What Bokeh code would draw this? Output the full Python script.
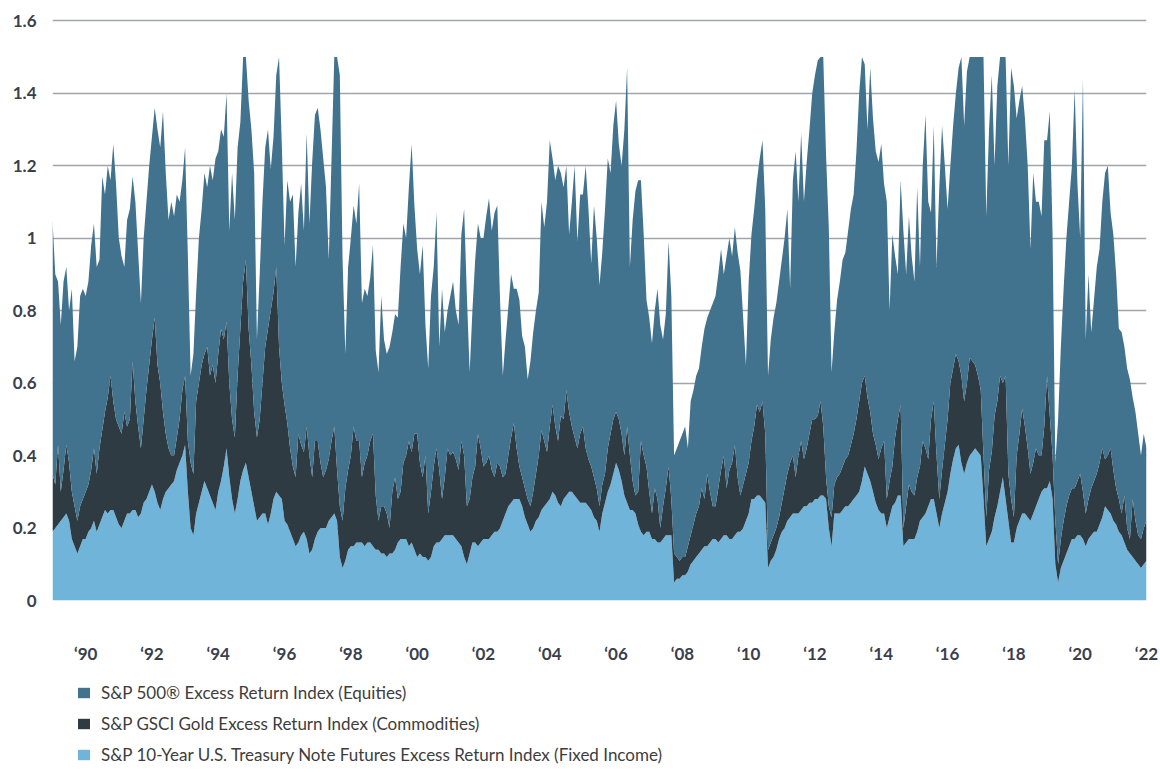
from bokeh.plotting import figure
from bokeh.layouts import column
from bokeh.models import (ColumnDataSource, Legend, LegendItem, FixedTicker,
                          NumeralTickFormatter, Range1d)
from bokeh.embed import file_html
from bokeh.resources import INLINE

# Monthly weights, Jan 1989 ... Jan 2022 (one row per year)
treasury = [
    0.19, 0.20, 0.21, 0.22, 0.23, 0.24, 0.22, 0.17, 0.15, 0.13, 0.15, 0.17,  # 1989
    0.17, 0.19, 0.20, 0.22, 0.19, 0.21, 0.23, 0.25, 0.24, 0.25, 0.25, 0.23,  # 1990
    0.21, 0.20, 0.22, 0.24, 0.24, 0.25, 0.25, 0.23, 0.24, 0.27, 0.28, 0.30,  # 1991
    0.32, 0.30, 0.27, 0.25, 0.28, 0.30, 0.31, 0.32, 0.33, 0.36, 0.38, 0.40,  # 1992
    0.43, 0.30, 0.20, 0.18, 0.24, 0.27, 0.30, 0.33, 0.31, 0.29, 0.27, 0.25,  # 1993
    0.30, 0.33, 0.37, 0.42, 0.34, 0.28, 0.24, 0.28, 0.33, 0.36, 0.38, 0.34,  # 1994
    0.30, 0.26, 0.22, 0.23, 0.24, 0.24, 0.21, 0.24, 0.28, 0.30, 0.29, 0.28,  # 1995
    0.22, 0.21, 0.19, 0.17, 0.15, 0.16, 0.18, 0.19, 0.17, 0.13, 0.14, 0.17,  # 1996
    0.19, 0.20, 0.20, 0.20, 0.22, 0.23, 0.24, 0.22, 0.12, 0.09, 0.11, 0.14,  # 1997
    0.15, 0.15, 0.16, 0.16, 0.16, 0.15, 0.16, 0.16, 0.15, 0.14, 0.14, 0.13,  # 1998
    0.13, 0.12, 0.13, 0.13, 0.14, 0.16, 0.17, 0.17, 0.17, 0.15, 0.16, 0.14,  # 1999
    0.12, 0.13, 0.12, 0.12, 0.11, 0.12, 0.15, 0.16, 0.16, 0.17, 0.18, 0.18,  # 2000
    0.18, 0.18, 0.17, 0.16, 0.15, 0.12, 0.10, 0.13, 0.16, 0.16, 0.15, 0.16,  # 2001
    0.17, 0.17, 0.17, 0.18, 0.19, 0.19, 0.20, 0.22, 0.24, 0.26, 0.27, 0.28,  # 2002
    0.28, 0.28, 0.26, 0.23, 0.21, 0.19, 0.20, 0.22, 0.23, 0.25, 0.26, 0.27,  # 2003
    0.28, 0.30, 0.29, 0.27, 0.26, 0.28, 0.29, 0.30, 0.30, 0.29, 0.28, 0.27,  # 2004
    0.27, 0.27, 0.26, 0.25, 0.23, 0.22, 0.19, 0.24, 0.27, 0.30, 0.32, 0.35,  # 2005
    0.38, 0.36, 0.33, 0.29, 0.27, 0.25, 0.25, 0.24, 0.21, 0.19, 0.18, 0.19,  # 2006
    0.19, 0.17, 0.17, 0.16, 0.16, 0.17, 0.18, 0.18, 0.18, 0.05, 0.06, 0.06,  # 2007
    0.07, 0.07, 0.08, 0.10, 0.11, 0.12, 0.13, 0.14, 0.15, 0.15, 0.16, 0.17,  # 2008
    0.17, 0.16, 0.17, 0.18, 0.18, 0.17, 0.17, 0.18, 0.19, 0.19, 0.20, 0.22,  # 2009
    0.24, 0.28, 0.28, 0.29, 0.29, 0.28, 0.27, 0.09, 0.11, 0.12, 0.14, 0.17,  # 2010
    0.19, 0.20, 0.22, 0.23, 0.24, 0.24, 0.24, 0.25, 0.26, 0.26, 0.27, 0.27,  # 2011
    0.28, 0.28, 0.29, 0.29, 0.28, 0.20, 0.15, 0.24, 0.24, 0.24, 0.25, 0.26,  # 2012
    0.26, 0.27, 0.28, 0.29, 0.30, 0.33, 0.37, 0.35, 0.33, 0.30, 0.27, 0.25,  # 2013
    0.24, 0.24, 0.20, 0.23, 0.26, 0.27, 0.29, 0.29, 0.15, 0.16, 0.17, 0.17,  # 2014
    0.17, 0.19, 0.22, 0.23, 0.24, 0.26, 0.28, 0.28, 0.24, 0.20, 0.24, 0.27,  # 2015
    0.30, 0.35, 0.39, 0.42, 0.43, 0.38, 0.35, 0.38, 0.40, 0.41, 0.42, 0.41,  # 2016
    0.40, 0.28, 0.15, 0.17, 0.19, 0.23, 0.26, 0.30, 0.34, 0.28, 0.22, 0.16,  # 2017
    0.16, 0.20, 0.22, 0.24, 0.24, 0.23, 0.22, 0.24, 0.26, 0.28, 0.30, 0.31,  # 2018
    0.31, 0.33, 0.28, 0.10, 0.05, 0.09, 0.11, 0.13, 0.15, 0.17, 0.17, 0.18,  # 2019
    0.18, 0.17, 0.15, 0.17, 0.18, 0.19, 0.19, 0.21, 0.23, 0.26, 0.25, 0.24,  # 2020
    0.22, 0.21, 0.19, 0.18, 0.16, 0.14, 0.13, 0.12, 0.11, 0.10, 0.09, 0.10,  # 2021
    0.11,                                                                    # 2022
]

gold = [
    0.16, 0.12, 0.22, 0.08, 0.13, 0.19, 0.16, 0.13, 0.11, 0.09, 0.11, 0.11,  # 1989
    0.13, 0.13, 0.16, 0.20, 0.16, 0.21, 0.24, 0.27, 0.32, 0.37, 0.30, 0.27,  # 1990
    0.27, 0.26, 0.30, 0.24, 0.26, 0.41, 0.30, 0.25, 0.18, 0.23, 0.30, 0.35,  # 1991
    0.40, 0.48, 0.38, 0.35, 0.24, 0.16, 0.11, 0.08, 0.07, 0.09, 0.12, 0.18,  # 1992
    0.19, 0.14, 0.18, 0.17, 0.31, 0.33, 0.35, 0.35, 0.39, 0.33, 0.38, 0.35,  # 1993
    0.38, 0.42, 0.35, 0.35, 0.26, 0.22, 0.21, 0.34, 0.42, 0.52, 0.56, 0.41,  # 1994
    0.35, 0.26, 0.23, 0.27, 0.36, 0.46, 0.54, 0.56, 0.57, 0.62, 0.41, 0.32,  # 1995
    0.32, 0.28, 0.23, 0.20, 0.19, 0.30, 0.25, 0.22, 0.31, 0.27, 0.20, 0.27,  # 1996
    0.25, 0.18, 0.14, 0.16, 0.17, 0.21, 0.24, 0.14, 0.14, 0.13, 0.20, 0.22,  # 1997
    0.25, 0.33, 0.28, 0.28, 0.18, 0.23, 0.24, 0.28, 0.31, 0.15, 0.08, 0.13,  # 1998
    0.13, 0.12, 0.07, 0.17, 0.20, 0.12, 0.13, 0.21, 0.23, 0.29, 0.25, 0.32,  # 1999
    0.34, 0.25, 0.22, 0.28, 0.13, 0.18, 0.22, 0.26, 0.20, 0.11, 0.16, 0.24,  # 2000
    0.22, 0.23, 0.22, 0.20, 0.29, 0.28, 0.16, 0.15, 0.18, 0.21, 0.31, 0.26,  # 2001
    0.20, 0.21, 0.23, 0.18, 0.15, 0.19, 0.17, 0.12, 0.11, 0.14, 0.18, 0.21,  # 2002
    0.14, 0.09, 0.08, 0.08, 0.07, 0.07, 0.10, 0.13, 0.17, 0.22, 0.18, 0.14,  # 2003
    0.20, 0.24, 0.19, 0.17, 0.25, 0.22, 0.29, 0.22, 0.18, 0.16, 0.14, 0.19,  # 2004
    0.21, 0.15, 0.13, 0.12, 0.11, 0.09, 0.07, 0.08, 0.08, 0.12, 0.14, 0.15,  # 2005
    0.14, 0.14, 0.13, 0.11, 0.21, 0.15, 0.08, 0.05, 0.09, 0.25, 0.22, 0.18,  # 2006
    0.11, 0.07, 0.14, 0.12, 0.04, 0.09, 0.13, 0.19, 0.10, 0.08, 0.06, 0.05,  # 2007
    0.05, 0.05, 0.07, 0.08, 0.10, 0.12, 0.13, 0.17, 0.13, 0.20, 0.14, 0.09,  # 2008
    0.09, 0.15, 0.19, 0.22, 0.13, 0.19, 0.21, 0.25, 0.15, 0.10, 0.12, 0.13,  # 2009
    0.14, 0.16, 0.20, 0.25, 0.23, 0.27, 0.19, 0.05, 0.05, 0.06, 0.06, 0.06,  # 2010
    0.08, 0.11, 0.13, 0.15, 0.16, 0.10, 0.16, 0.19, 0.13, 0.16, 0.19, 0.23,  # 2011
    0.22, 0.23, 0.26, 0.19, 0.06, 0.06, 0.08, 0.08, 0.10, 0.11, 0.12, 0.13,  # 2012
    0.14, 0.16, 0.18, 0.21, 0.25, 0.27, 0.25, 0.21, 0.19, 0.16, 0.16, 0.14,  # 2013
    0.18, 0.20, 0.08, 0.10, 0.11, 0.18, 0.21, 0.25, 0.05, 0.10, 0.15, 0.13,  # 2014
    0.12, 0.15, 0.15, 0.21, 0.18, 0.13, 0.22, 0.27, 0.16, 0.08, 0.12, 0.16,  # 2015
    0.20, 0.25, 0.25, 0.26, 0.23, 0.24, 0.20, 0.22, 0.27, 0.25, 0.23, 0.21,  # 2016
    0.18, 0.12, 0.08, 0.19, 0.22, 0.28, 0.29, 0.32, 0.26, 0.34, 0.13, 0.12,  # 2017
    0.07, 0.20, 0.24, 0.29, 0.24, 0.19, 0.13, 0.14, 0.16, 0.12, 0.10, 0.17,  # 2018
    0.31, 0.18, 0.12, 0.12, 0.05, 0.08, 0.11, 0.13, 0.14, 0.14, 0.14, 0.15,  # 2019
    0.17, 0.13, 0.09, 0.11, 0.13, 0.14, 0.16, 0.17, 0.19, 0.13, 0.15, 0.18,  # 2020
    0.14, 0.10, 0.09, 0.06, 0.13, 0.06, 0.04, 0.16, 0.11, 0.08, 0.08, 0.10,  # 2021
    0.11,                                                                    # 2022
]

equities = [
    0.70, 0.58, 0.45, 0.46, 0.52, 0.49, 0.42, 0.56, 0.40, 0.48, 0.58, 0.58,  # 1989
    0.54, 0.56, 0.62, 0.62, 0.57, 0.52, 0.70, 0.60, 0.64, 0.54, 0.71, 0.65,  # 1990
    0.52, 0.49, 0.40, 0.57, 0.58, 0.51, 0.55, 0.48, 0.40, 0.50, 0.52, 0.55,  # 1991
    0.56, 0.58, 0.65, 0.65, 0.83, 0.72, 0.63, 0.70, 0.66, 0.67, 0.60, 0.58,  # 1992
    0.63, 0.51, 0.24, 0.33, 0.30, 0.40, 0.43, 0.50, 0.44, 0.58, 0.51, 0.62,  # 1993
    0.56, 0.55, 0.56, 0.63, 0.42, 0.68, 0.60, 0.63, 0.57, 0.62, 0.56, 0.63,  # 1994
    0.65, 0.66, 0.27, 0.40, 0.50, 0.55, 0.55, 0.39, 0.43, 0.53, 0.80, 0.66,  # 1995
    0.44, 0.67, 0.68, 0.75, 0.58, 0.61, 0.72, 0.61, 0.81, 0.64, 0.87, 0.90,  # 1996
    0.92, 0.92, 0.88, 0.78, 0.55, 0.78, 1.02, 1.14, 1.19, 0.72, 0.37, 0.56,  # 1997
    0.60, 0.61, 0.60, 0.71, 0.48, 0.48, 0.44, 0.45, 0.52, 0.40, 0.41, 0.58,  # 1998
    0.46, 0.44, 0.50, 0.44, 0.45, 0.50, 0.62, 0.66, 0.60, 0.70, 0.85, 0.63,  # 1999
    0.51, 0.52, 0.64, 0.36, 0.40, 0.54, 0.55, 0.65, 0.34, 0.58, 0.40, 0.38,  # 2000
    0.44, 0.47, 0.41, 0.40, 0.57, 0.68, 0.58, 0.35, 0.46, 0.57, 0.58, 0.58,  # 2001
    0.63, 0.68, 0.71, 0.66, 0.73, 0.71, 0.46, 0.28, 0.37, 0.41, 0.45, 0.37,  # 2002
    0.44, 0.46, 0.39, 0.39, 0.33, 0.40, 0.44, 0.45, 0.45, 0.63, 0.59, 0.69,  # 2003
    0.79, 0.68, 0.68, 0.76, 0.67, 0.64, 0.62, 0.49, 0.62, 0.75, 0.57, 0.66,  # 2004
    0.64, 0.78, 0.69, 0.56, 0.75, 0.69, 0.61, 0.64, 0.73, 0.80, 0.72, 0.81,  # 2005
    0.86, 0.76, 0.74, 0.90, 0.99, 0.52, 0.72, 0.84, 0.86, 0.72, 0.61, 0.46,  # 2006
    0.48, 0.47, 0.49, 0.58, 0.56, 0.46, 0.48, 0.62, 0.56, 0.27, 0.30, 0.33,  # 2007
    0.34, 0.36, 0.27, 0.37, 0.37, 0.38, 0.38, 0.39, 0.47, 0.43, 0.50, 0.56,  # 2008
    0.58, 0.59, 0.61, 0.50, 0.64, 0.64, 0.57, 0.60, 0.62, 0.62, 0.46, 0.30,  # 2009
    0.50, 0.57, 0.60, 0.62, 0.70, 0.72, 0.62, 0.48, 0.56, 0.60, 0.62, 0.65,  # 2010
    0.67, 0.69, 0.73, 0.48, 0.76, 0.90, 0.70, 0.85, 0.71, 0.79, 0.84, 0.90,  # 2011
    0.95, 0.98, 0.95, 1.02, 0.89, 0.77, 0.40, 0.42, 0.49, 0.53, 0.57, 0.57,  # 2012
    0.62, 0.65, 0.66, 0.74, 0.85, 0.90, 0.86, 0.74, 0.95, 0.87, 0.81, 0.82,  # 2013
    0.84, 0.71, 0.82, 0.47, 0.64, 0.50, 0.40, 0.62, 0.82, 0.64, 0.74, 0.65,  # 2014
    0.59, 0.80, 0.55, 0.76, 0.92, 0.71, 0.57, 0.76, 0.52, 0.86, 0.95, 0.77,  # 2015
    0.58, 0.60, 0.67, 0.72, 0.81, 0.88, 0.76, 0.86, 0.83, 0.84, 0.85, 0.88,  # 2016
    0.92, 1.10, 0.83, 0.94, 1.04, 0.69, 0.87, 0.88, 0.90, 0.88, 0.85, 1.19,  # 2017
    1.19, 0.93, 0.92, 0.89, 0.85, 0.78, 0.62, 0.80, 0.68, 0.70, 0.66, 0.79,  # 2018
    0.65, 0.84, 0.61, 0.16, 0.40, 0.53, 0.64, 0.74, 0.81, 0.89, 1.10, 0.82,  # 2019
    0.65, 1.14, 0.48, 0.62, 0.43, 0.50, 0.57, 0.59, 0.68, 0.79, 0.80, 0.65,  # 2020
    0.65, 0.59, 0.47, 0.50, 0.41, 0.44, 0.44, 0.28, 0.30, 0.28, 0.23, 0.26,  # 2021
    0.20,                                                                    # 2022
]

series_labels = [
    "S&P 500® Excess Return Index (Equities)",
    "S&P GSCI Gold Excess Return Index (Commodities)",
    "S&P 10-Year U.S. Treasury Note Futures Excess Return Index (Fixed Income)",
]
year_ticks = [1990, 1992, 1994, 1996, 1998, 2000, 2002, 2004, 2006, 2008,
              2010, 2012, 2014, 2016, 2018, 2020, 2022]
value_ticks = [0, 0.2, 0.4, 0.6, 0.8, 1, 1.2, 1.4, 1.6]

C_EQ = "#41728e"
C_GOLD = "#2f3b43"
C_TSY = "#71b4da"
TICK_COLOR = "#3b3f4d"
FONT = "Lato"

start_year = 1989
x = [start_year + i / 12 for i in range(len(treasury))]
source = ColumnDataSource(dict(x=x, treasury=treasury, gold=gold, equities=equities))
stack_cols = ["treasury", "gold", "equities"]
stack_colors = [C_TSY, C_GOLD, C_EQ]

# ---- main chart ----
p = figure(width=1160, height=672, output_backend="svg", toolbar_location=None,
           x_range=(1989.0, 2022.0), y_range=(0, 1.606),
           min_border_left=52, min_border_right=14, min_border_top=18,
           min_border_bottom=72)
p.outline_line_color = None

p.varea_stack(stack_cols, x="x", source=source, color=stack_colors)

p.xaxis.ticker = FixedTicker(ticks=year_ticks)
p.xaxis.major_label_overrides = {y: "\u2018" + str(y)[2:] for y in year_ticks}
p.yaxis.ticker = FixedTicker(ticks=value_ticks)
p.yaxis.formatter = NumeralTickFormatter(format="0.[0]")
for ax in (p.xaxis[0], p.yaxis[0]):
    ax.axis_line_color = None
    ax.major_tick_line_color = None
    ax.minor_tick_line_color = None
    ax.major_label_text_font = FONT
    ax.major_label_text_font_style = "bold"
    ax.major_label_text_font_size = "17px"
    ax.major_label_text_color = TICK_COLOR
p.xaxis.major_label_standoff = 36
p.yaxis.major_label_standoff = 10

p.xgrid.grid_line_color = None
p.ygrid.ticker = FixedTicker(ticks=value_ticks[1:])
p.ygrid.grid_line_color = "#a0a5a9"
p.ygrid.grid_line_width = 1.6

# ---- legend strip (same series, drawn off-range so only the legend shows) ----
pl = figure(width=1160, height=98, output_backend="svg", toolbar_location=None,
            x_range=Range1d(0, 1), y_range=Range1d(10, 11),
            min_border=0, x_axis_location=None, y_axis_location=None)
pl.outline_line_color = None
pl.grid.grid_line_color = None
lr = pl.varea_stack(stack_cols, x="x", source=source, color=stack_colors)

legend = Legend(
    items=[LegendItem(label=series_labels[0], renderers=[lr[2]]),
           LegendItem(label=series_labels[1], renderers=[lr[1]]),
           LegendItem(label=series_labels[2], renderers=[lr[0]])],
    location=(24, 5), orientation="vertical",
    glyph_width=15, glyph_height=13, label_height=20, spacing=10,
    label_standoff=10, padding=0, margin=0,
    label_text_font=FONT, label_text_font_size="17px",
    label_text_color="#3d3d3d",
    border_line_color=None, background_fill_alpha=0,
)
pl.add_layout(legend, "center")

open("out.html", "w").write(file_html(column(p, pl), INLINE))
